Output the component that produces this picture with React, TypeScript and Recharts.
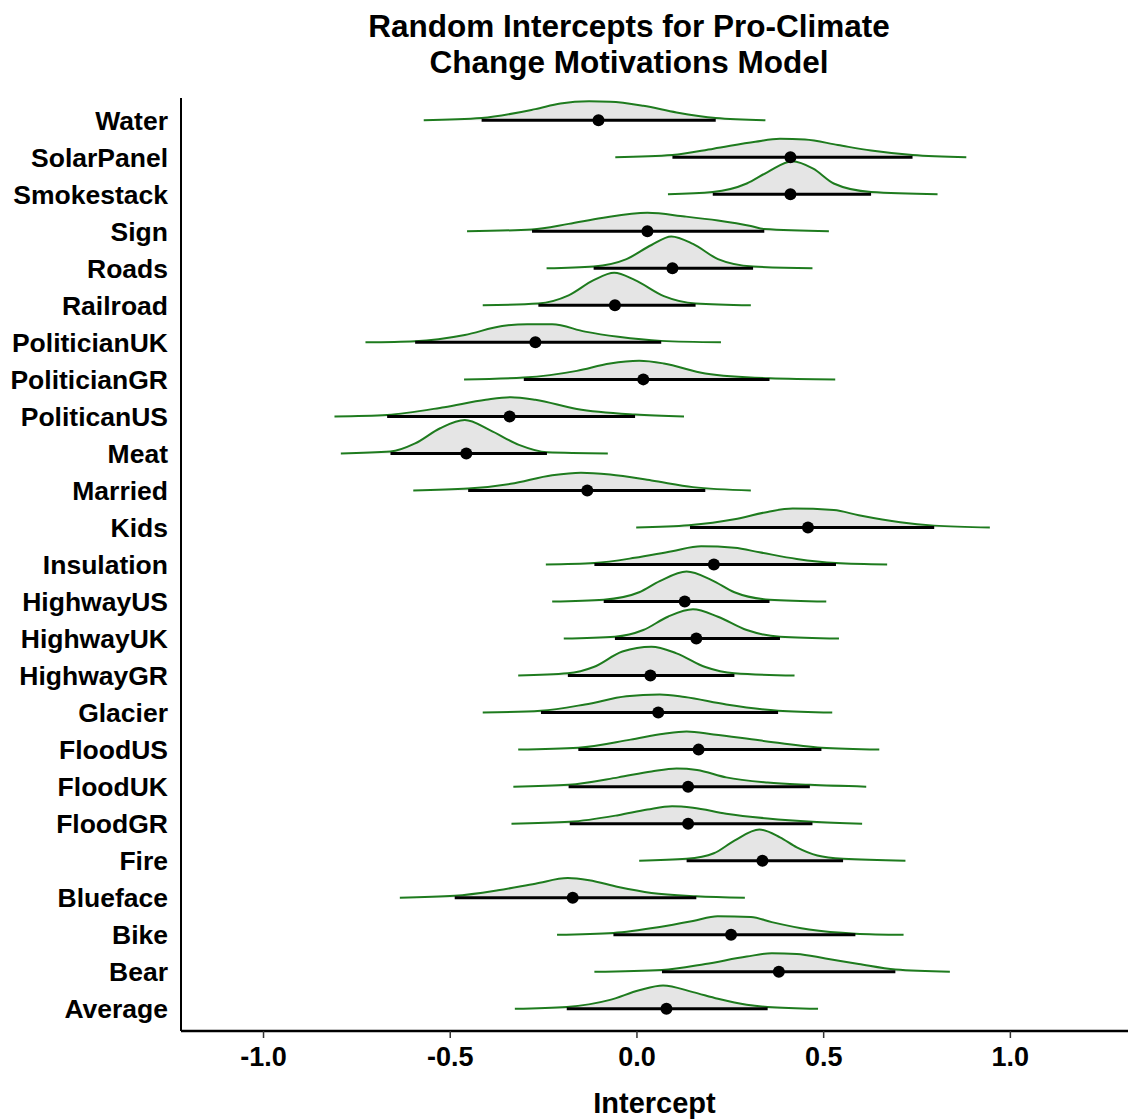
import { ComposedChart, Area, Line, Scatter, XAxis, YAxis } from 'recharts';

// rows from top to bottom, as in the picture
const categories = [
  'Water', 'SolarPanel', 'Smokestack', 'Sign', 'Roads', 'Railroad',
  'PoliticianUK', 'PoliticianGR', 'PoliticanUS', 'Meat', 'Married', 'Kids',
  'Insulation', 'HighwayUS', 'HighwayUK', 'HighwayGR', 'Glacier', 'FloodUS',
  'FloodUK', 'FloodGR', 'Fire', 'Blueface', 'Bike', 'Bear', 'Average',
];

const medians = [
  -0.103, 0.411, 0.411, 0.028, 0.095, -0.059, -0.272, 0.017, -0.341, -0.457,
  -0.133, 0.458, 0.206, 0.128, 0.159, 0.036, 0.057, 0.165, 0.137, 0.137,
  0.336, -0.172, 0.252, 0.38, 0.079,
];

const lower = [
  -0.416, 0.095, 0.203, -0.281, -0.116, -0.264, -0.594, -0.303, -0.669, -0.66,
  -0.452, 0.142, -0.114, -0.089, -0.059, -0.185, -0.257, -0.157, -0.183, -0.18,
  0.133, -0.488, -0.063, 0.067, -0.188,
];

const upper = [
  0.211, 0.738, 0.627, 0.341, 0.311, 0.157, 0.065, 0.355, -0.005, -0.241,
  0.183, 0.796, 0.533, 0.355, 0.383, 0.261, 0.378, 0.494, 0.463, 0.47,
  0.552, 0.159, 0.585, 0.692, 0.35,
];

// density outlines: [intercept, height in row units], same order as categories
const ridges: [number, number][][] = [
  [[-0.571, 0], [-0.416, 0.06], [-0.272, 0.3], [-0.205, 0.45], [-0.128, 0.51], [-0.072, 0.5], [0.017, 0.39], [0.106, 0.21], [0.211, 0.06], [0.344, 0]],
  [[-0.058, 0], [0.095, 0.06], [0.205, 0.23], [0.317, 0.42], [0.383, 0.5], [0.45, 0.48], [0.538, 0.33], [0.627, 0.18], [0.738, 0.06], [0.882, 0]],
  [[0.083, 0], [0.203, 0.06], [0.294, 0.29], [0.35, 0.6], [0.416, 0.89], [0.472, 0.69], [0.527, 0.29], [0.627, 0.06], [0.805, 0]],
  [[-0.455, 0], [-0.281, 0.05], [-0.183, 0.2], [-0.094, 0.36], [0.028, 0.5], [0.128, 0.4], [0.217, 0.29], [0.305, 0.14], [0.341, 0.06], [0.514, 0]],
  [[-0.242, 0], [-0.116, 0.05], [-0.028, 0.25], [0.039, 0.63], [0.092, 0.86], [0.15, 0.66], [0.217, 0.25], [0.311, 0.05], [0.47, 0]],
  [[-0.413, 0], [-0.264, 0.05], [-0.183, 0.27], [-0.116, 0.68], [-0.061, 0.88], [-0.005, 0.68], [0.072, 0.25], [0.157, 0.05], [0.305, 0]],
  [[-0.727, 0], [-0.594, 0.03], [-0.461, 0.2], [-0.361, 0.44], [-0.294, 0.49], [-0.227, 0.49], [-0.139, 0.29], [-0.05, 0.15], [0.065, 0.04], [0.225, 0]],
  [[-0.463, 0], [-0.303, 0.05], [-0.161, 0.23], [-0.072, 0.43], [0.006, 0.5], [0.072, 0.43], [0.183, 0.16], [0.355, 0.03], [0.531, 0]],
  [[-0.81, 0], [-0.669, 0.04], [-0.516, 0.25], [-0.405, 0.45], [-0.338, 0.52], [-0.272, 0.45], [-0.161, 0.2], [-0.005, 0.05], [0.126, 0]],
  [[-0.793, 0], [-0.66, 0.05], [-0.594, 0.27], [-0.527, 0.68], [-0.461, 0.9], [-0.394, 0.63], [-0.316, 0.23], [-0.241, 0.03], [-0.078, 0]],
  [[-0.599, 0], [-0.452, 0.05], [-0.338, 0.18], [-0.227, 0.41], [-0.15, 0.48], [-0.072, 0.43], [0.039, 0.27], [0.15, 0.09], [0.305, 0]],
  [[-0.002, 0], [0.139, 0.06], [0.261, 0.22], [0.35, 0.42], [0.417, 0.51], [0.527, 0.47], [0.594, 0.33], [0.705, 0.14], [0.796, 0.05], [0.945, 0]],
  [[-0.244, 0], [-0.114, 0.04], [-0.006, 0.18], [0.094, 0.36], [0.172, 0.49], [0.261, 0.45], [0.328, 0.33], [0.428, 0.15], [0.533, 0.04], [0.67, 0]],
  [[-0.227, 0], [-0.089, 0.05], [0.006, 0.25], [0.061, 0.55], [0.133, 0.81], [0.2, 0.58], [0.261, 0.25], [0.355, 0.05], [0.507, 0]],
  [[-0.196, 0], [-0.059, 0.05], [0.017, 0.23], [0.083, 0.59], [0.15, 0.79], [0.217, 0.59], [0.294, 0.23], [0.383, 0.05], [0.541, 0]],
  [[-0.318, 0], [-0.185, 0.06], [-0.116, 0.23], [-0.039, 0.65], [0.039, 0.78], [0.106, 0.6], [0.183, 0.23], [0.261, 0.06], [0.422, 0]],
  [[-0.413, 0], [-0.257, 0.05], [-0.139, 0.22], [-0.028, 0.44], [0.061, 0.49], [0.128, 0.42], [0.239, 0.22], [0.378, 0.05], [0.523, 0]],
  [[-0.318, 0], [-0.157, 0.05], [-0.017, 0.27], [0.072, 0.43], [0.133, 0.49], [0.205, 0.41], [0.328, 0.25], [0.494, 0.05], [0.649, 0]],
  [[-0.331, 0], [-0.183, 0.05], [-0.05, 0.25], [0.039, 0.41], [0.106, 0.49], [0.161, 0.45], [0.239, 0.25], [0.35, 0.11], [0.463, 0.05], [0.614, 0]],
  [[-0.336, 0], [-0.18, 0.05], [-0.05, 0.23], [0.028, 0.38], [0.094, 0.47], [0.15, 0.43], [0.239, 0.27], [0.35, 0.14], [0.47, 0.05], [0.603, 0]],
  [[0.006, 0], [0.133, 0.05], [0.206, 0.2], [0.261, 0.54], [0.328, 0.84], [0.383, 0.63], [0.428, 0.36], [0.483, 0.14], [0.552, 0.05], [0.719, 0]],
  [[-0.635, 0], [-0.488, 0.05], [-0.372, 0.2], [-0.272, 0.38], [-0.185, 0.53], [-0.128, 0.47], [-0.05, 0.29], [0.039, 0.13], [0.159, 0.04], [0.289, 0]],
  [[-0.214, 0], [-0.063, 0.05], [0.061, 0.21], [0.15, 0.37], [0.216, 0.5], [0.305, 0.48], [0.361, 0.34], [0.461, 0.14], [0.585, 0.03], [0.714, 0]],
  [[-0.114, 0], [0.067, 0.05], [0.183, 0.21], [0.294, 0.41], [0.361, 0.5], [0.428, 0.48], [0.505, 0.36], [0.594, 0.21], [0.692, 0.06], [0.838, 0]],
  [[-0.327, 0], [-0.188, 0.05], [-0.072, 0.24], [0.006, 0.5], [0.07, 0.63], [0.15, 0.45], [0.217, 0.27], [0.294, 0.11], [0.35, 0.05], [0.485, 0]],
];

const xTicks = [-1, -0.5, 0, 0.5, 1];

const FONT = '"Liberation Sans", Arial, Helvetica, sans-serif';
const GREEN = '#1e7b1e';

const rowOf = (i: number) => categories.length - 1 - i;
const rowTicks = categories.map((_, i) => rowOf(i));

const Dot = (props: any) => <circle cx={props.cx} cy={props.cy} r={6} fill="#000" />;

const App = () => {
  const pointData = categories.map((_, i) => ({ x: medians[i], y: rowOf(i) }));

  return (
    <div
      style={{
        position: 'absolute',
        left: 0,
        top: 0,
        width: 1133,
        height: 1120,
        background: '#fff',
        fontFamily: FONT,
      }}
    >
      <div
        style={{
          position: 'absolute',
          left: 329,
          top: 8,
          width: 600,
          textAlign: 'center',
          fontWeight: 'bold',
          fontSize: 31.5,
          lineHeight: '36px',
          color: '#000',
        }}
      >
        Random Intercepts for Pro-Climate
        <br />
        Change Motivations Model
      </div>
      <ComposedChart
        width={1133}
        height={1120}
        margin={{ top: 98, right: 5, bottom: 0, left: 0 }}
      >
        <XAxis
          type="number"
          dataKey="x"
          domain={[-1.221, 1.315]}
          ticks={xTicks}
          tickFormatter={(v: number) => v.toFixed(1)}
          height={89}
          axisLine={{ stroke: '#000', strokeWidth: 2.5 }}
          tickLine={{ stroke: '#333', strokeWidth: 1.5 }}
          tickSize={7}
          tickMargin={9}
          tick={{ fill: '#000', fontSize: 27, fontWeight: 'bold', fontFamily: FONT }}
          label={{
            value: 'Intercept',
            position: 'insideBottom',
            offset: 7,
            fill: '#000',
            fontSize: 29,
            fontWeight: 'bold',
            fontFamily: FONT,
          }}
        />
        <YAxis
          type="number"
          dataKey="y"
          domain={[-0.6, 24.6]}
          ticks={rowTicks}
          interval={0}
          tickFormatter={(v: number) => categories[categories.length - 1 - v]}
          width={181}
          axisLine={{ stroke: '#000', strokeWidth: 2 }}
          tickLine={false}
          tickSize={8}
          tickMargin={5}
          tick={{ fill: '#000', fontSize: 26.5, fontWeight: 'bold', fontFamily: FONT }}
        />
        {ridges.map((pts, i) => (
          <Area
            key={'ridge-' + categories[i]}
            data={pts.map(([x, h]) => ({ x, top: rowOf(i) + h }))}
            dataKey="top"
            baseValue={rowOf(i)}
            type="monotone"
            fill="#e5e5e5"
            fillOpacity={1}
            stroke={GREEN}
            strokeWidth={2}
            dot={false}
            activeDot={false}
            isAnimationActive={false}
          />
        ))}
        {categories.map((c, i) => (
          <Line
            key={'int-' + c}
            data={[
              { x: lower[i], y: rowOf(i) },
              { x: upper[i], y: rowOf(i) },
            ]}
            dataKey="y"
            stroke="#000"
            strokeWidth={3}
            dot={false}
            activeDot={false}
            isAnimationActive={false}
          />
        ))}
        <Scatter data={pointData} dataKey="y" shape={Dot} isAnimationActive={false} />
      </ComposedChart>
    </div>
  );
};

export default App;
